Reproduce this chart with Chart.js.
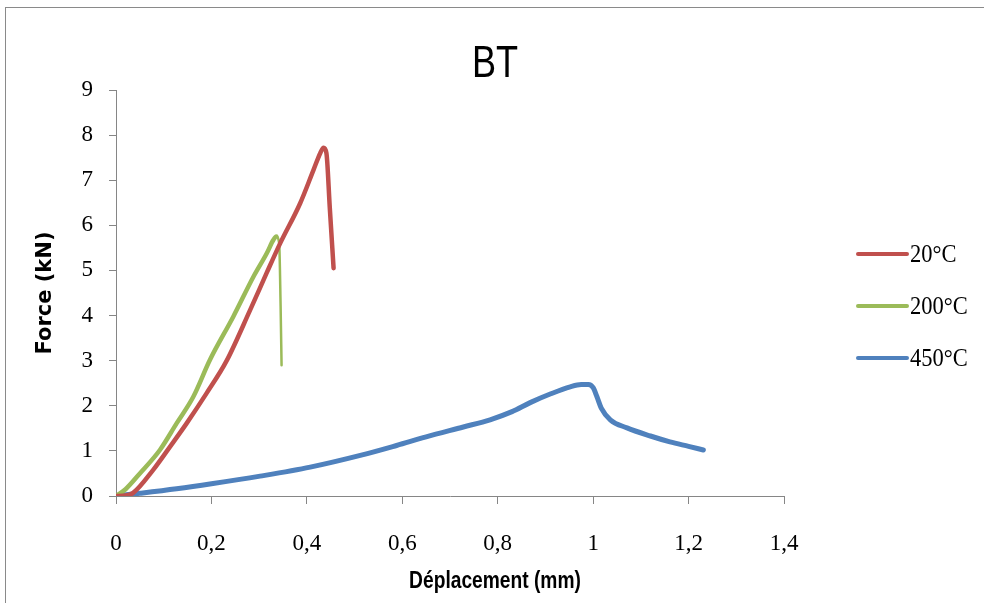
<!DOCTYPE html>
<html>
<head>
<meta charset="utf-8">
<script src="https://cdn.jsdelivr.net/npm/chart.js@4.4.1/dist/chart.umd.min.js"></script>
<style>
  html, body { margin: 0; padding: 0; background: #fff; overflow: hidden; }
  #wrap { position: relative; width: 984px; height: 603px; }
  #cadre { position: absolute; left: 5px; top: 7px; width: 1000px; height: 620px; border: 1px solid #8a8a8a; }
  #graf { position: absolute; left: 0; top: 0; }
</style>
</head>
<body>
<div id="wrap">
  <div id="cadre"></div>
  <canvas id="graf" width="984" height="603"></canvas>
</div>
<script>
// Essai BT : force en fonction du déplacement
let series = ['20°C', '200°C', '450°C'];
let couleurs = ['#C0504D', '#9BBB59', '#4F81BD'];

let x20 = [0, 0.02, 0.036, 0.078, 0.113, 0.148, 0.19, 0.232, 0.281, 0.316, 0.344, 0.386, 0.414, 0.428, 0.435, 0.441, 0.448, 0.456];
let y20 = [0, 0.01, 0.07, 0.58, 1.09, 1.61, 2.28, 3.0, 4.12, 4.95, 5.6, 6.49, 7.23, 7.6, 7.72, 7.6, 6.4, 5.05];

let x200 = [0, 0.02, 0.05, 0.092, 0.127, 0.162, 0.197, 0.246, 0.288, 0.316, 0.33, 0.336, 0.342, 0.345, 0.347];
let y200 = [0, 0.15, 0.5, 1.02, 1.61, 2.2, 3.02, 3.98, 4.86, 5.38, 5.68, 5.75, 5.6, 4.2, 2.9];

let x450 = [0, 0.05, 0.127, 0.2, 0.302, 0.407, 0.512, 0.588, 0.65, 0.728, 0.784, 0.83, 0.868, 0.91, 0.952, 0.975, 0.99, 1.0, 1.008, 1.017, 1.036, 1.071, 1.12, 1.161, 1.2, 1.231];
let y450 = [0, 0.06, 0.16, 0.27, 0.44, 0.64, 0.9, 1.12, 1.31, 1.53, 1.69, 1.87, 2.07, 2.26, 2.42, 2.47, 2.47, 2.40, 2.2, 1.95, 1.69, 1.51, 1.33, 1.2, 1.1, 1.02];

let titre = 'BT';
let titreX = 'Déplacement (mm)';
let titreY = 'Force (kN)';

function points(xs, ys) {
    return xs.map((x, i) => ({ x: x, y: ys[i] }));
}

// pic de la courbe à 200°C : après lui le trait est plus fin
let pic200 = y200.indexOf(Math.max(...y200));

// texte étroit (pas de police "Narrow" installée) : on comprime en largeur
function texteEtroit(ctx, txt, x, y, police, k) {
    ctx.save();
    ctx.font = police;
    ctx.translate(x, y);
    ctx.scale(k, 1);
    ctx.fillText(txt, 0, 0);
    ctx.restore();
}

// titre, titre de l'axe X et légende dessinés à la main
const decor = {
    id: 'decor',
    afterDraw(chart) {
        const ctx = chart.ctx;
        ctx.save();
        ctx.fillStyle = '#000';
        ctx.textAlign = 'center';
        ctx.textBaseline = 'middle';
        texteEtroit(ctx, titre, 495, 65, '44px "Liberation Sans"', 0.82);
        texteEtroit(ctx, titreX, 495, 581, 'bold 24px "Liberation Sans"', 0.8);

        ctx.textAlign = 'left';
        chart.data.datasets.forEach((ds, i) => {
            let y = 254 + i * 52;
            ctx.strokeStyle = ds.borderColor;
            ctx.lineWidth = 4;
            ctx.lineCap = 'round';
            ctx.beginPath();
            ctx.moveTo(858, y);
            ctx.lineTo(907, y);
            ctx.stroke();
            texteEtroit(ctx, ds.label, 910, y + 1, '25px "Liberation Serif"', 0.9);
        });
        ctx.restore();
    }
};

let graf = new Chart(document.getElementById('graf').getContext('2d'), {
    type: 'scatter',
    data: {
        datasets: [{
                label: series[0],
                data: points(x20, y20),
                borderColor: couleurs[0],
                backgroundColor: couleurs[0],
                borderWidth: 4.5,
            },
            {
                label: series[1],
                data: points(x200, y200),
                borderColor: couleurs[1],
                backgroundColor: couleurs[1],
                borderWidth: 4.5,
                segment: {
                    borderWidth: c => c.p0DataIndex >= pic200 ? 2.5 : 4.5
                }
            },
            {
                label: series[2],
                data: points(x450, y450),
                borderColor: couleurs[2],
                backgroundColor: couleurs[2],
                borderWidth: 5,
            }
        ]
    },
    options: {
        responsive: false,
        animation: false,
        showLine: true,
        elements: {
            point: { radius: 0, hoverRadius: 0 },
            line: { cubicInterpolationMode: 'monotone', borderCapStyle: 'round', borderJoinStyle: 'round' }
        },
        layout: {
            padding: { left: 0, right: 200, top: 90, bottom: 0 }
        },
        scales: {
            x: {
                type: 'linear',
                min: 0,
                max: 1.4,
                afterFit: s => { s.height = 107; },
                border: { display: true, color: '#868686' },
                grid: { drawOnChartArea: false, drawTicks: true, tickLength: 8, color: '#868686' },
                ticks: {
                    stepSize: 0.2,
                    padding: 26,
                    color: '#000',
                    font: { family: 'Liberation Serif', size: 23 },
                    callback: v => String(+v.toFixed(1)).replace('.', ',')
                }
            },
            y: {
                min: 0,
                max: 9,
                afterFit: s => { s.width = 116; },
                border: { display: true, color: '#868686' },
                grid: { drawOnChartArea: false, drawTicks: true, tickLength: 7, color: '#868686' },
                ticks: {
                    stepSize: 1,
                    padding: 16,
                    color: '#000',
                    font: { family: 'Liberation Serif', size: 23 }
                },
                title: {
                    display: true,
                    text: titreY,
                    color: '#000',
                    padding: { top: 33, bottom: 0 },
                    font: { family: 'DejaVu Sans', weight: 'bold', size: 21 }
                }
            }
        },
        plugins: {
            legend: { display: false },
            title: { display: false },
            tooltip: { enabled: false }
        }
    },
    plugins: [decor]
});
</script>
</body>
</html>
